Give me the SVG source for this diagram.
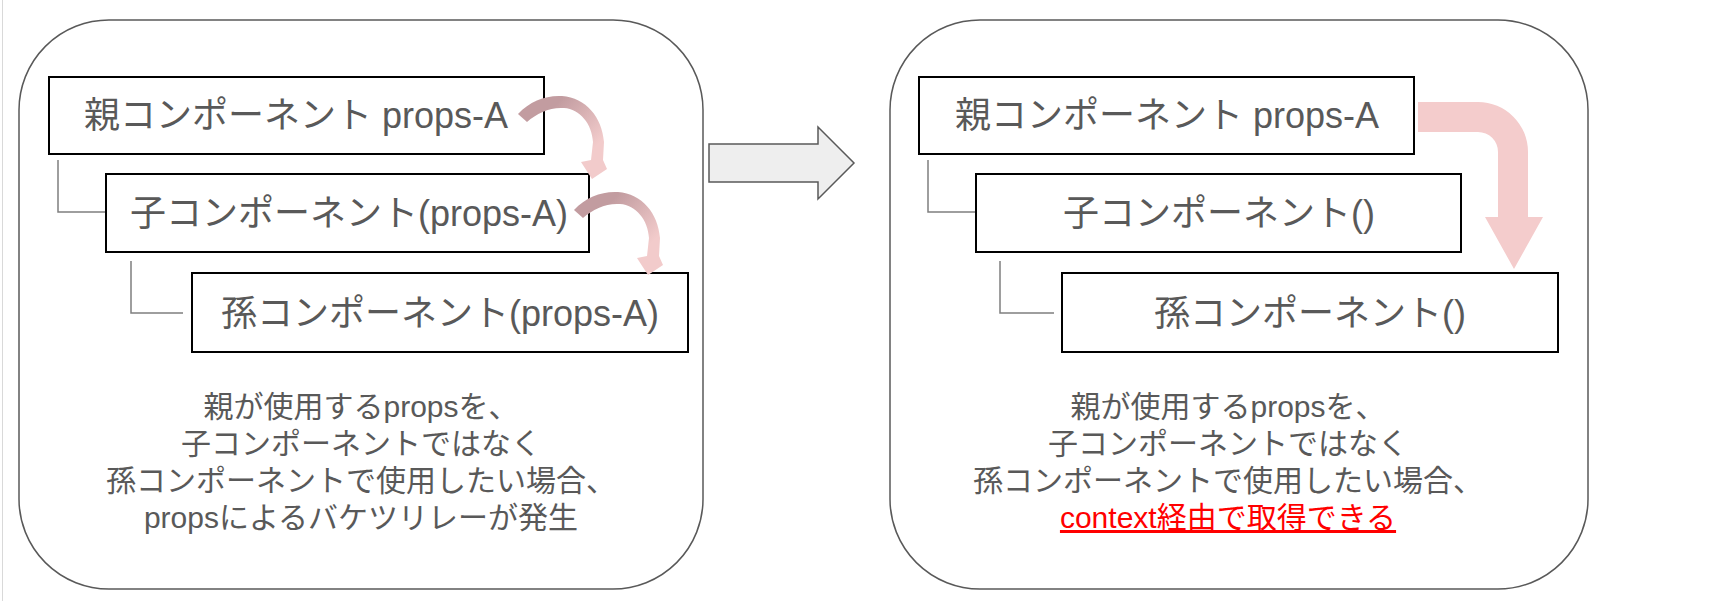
<svg xmlns="http://www.w3.org/2000/svg" width="1714" height="601" viewBox="0 0 1714 601">
<style>
.panel{fill:#ffffff;stroke:#595959;stroke-width:1.5}
.box{fill:#ffffff;stroke:#000000;stroke-width:2}
.conn{fill:none;stroke:#7f7f7f;stroke-width:1.5}
.t{font-family:"Liberation Sans","Noto Sans CJK JP",sans-serif;fill:#595959;text-anchor:middle}
.bt{font-size:36px}
.nt{font-size:30px}
.red{fill:#ff0000;text-decoration:underline}
</style>
<defs>
<linearGradient id="cg" gradientUnits="userSpaceOnUse" x1="560" y1="100" x2="602" y2="140">
<stop offset="0" stop-color="#c29ca0"/>
<stop offset="1" stop-color="#f2cbcb"/>
</linearGradient>
<path id="curl" d="M518,114 C530,101 546,95 562,96 C586,98 602,117 604,142 L603,160 L607,169 L592,179 L581,162 L591,160 L593,142 C592,124 580,109 564,108 C550,107 537,113 527,122 Z"/>
</defs>
<line x1="2.5" y1="0" x2="2.5" y2="601" stroke="#d9d9d9" stroke-width="1"/>
<g id="panel-left">
<rect class="panel" x="19" y="20" width="684" height="569" rx="90" ry="90"/>
</g>
<g id="panel-right">
<rect class="panel" x="890" y="20" width="698" height="569" rx="90" ry="90"/>
</g>
<g id="connectors">
<path class="conn" d="M58,160 V212 H106"/>
<path class="conn" d="M131,261 V313 H183"/>
<path class="conn" d="M928,160 V212 H978"/>
<path class="conn" d="M1000,261 V313 H1054"/>
</g>
<g id="left-parent">
<rect class="box" x="49" y="77" width="495" height="77"/>
<text class="t bt" x="296" y="128">親コンポーネント props-A</text>
</g>
<g id="left-child">
<rect class="box" x="106" y="174" width="483" height="78"/>
<text class="t bt" x="349" y="226">子コンポーネント(props-A)</text>
</g>
<g id="left-grandchild">
<rect class="box" x="192" y="273" width="496" height="79"/>
<text class="t bt" x="440" y="326">孫コンポーネント(props-A)</text>
</g>
<g id="left-curl-arrows">
<use href="#curl" fill="url(#cg)"/>
<use href="#curl" fill="url(#cg)" transform="translate(56,96)"/>
</g>
<g id="left-note">
<text class="t nt" x="361" y="417">親が使用するpropsを、</text>
<text class="t nt" x="361" y="454">子コンポーネントではなく</text>
<text class="t nt" x="361" y="491">孫コンポーネントで使用したい場合、</text>
<text class="t nt" x="361" y="528">propsによるバケツリレーが発生</text>
</g>
<g id="transition-arrow">
<path d="M709,144 H818 V127 L854,163 L818,199 V182 H709 Z" fill="#eeeeee" stroke="#595959" stroke-width="1.5"/>
</g>
<g id="right-parent">
<rect class="box" x="919" y="77" width="495" height="77"/>
<text class="t bt" x="1167" y="128">親コンポーネント props-A</text>
</g>
<g id="right-child">
<rect class="box" x="976" y="174" width="485" height="78"/>
<text class="t bt" x="1219" y="226">子コンポーネント()</text>
</g>
<g id="right-grandchild">
<rect class="box" x="1062" y="273" width="496" height="79"/>
<text class="t bt" x="1310" y="326">孫コンポーネント()</text>
</g>
<g id="right-context-arrow">
<path d="M1418,102 H1478 A50,50 0 0 1 1528,152 V217 H1543 L1514,269 L1485,217 H1498 V152 A20,20 0 0 0 1478,132 H1418 Z" fill="#f4cccc"/>
</g>
<g id="right-note">
<text class="t nt" x="1228" y="417">親が使用するpropsを、</text>
<text class="t nt" x="1228" y="454">子コンポーネントではなく</text>
<text class="t nt" x="1228" y="491">孫コンポーネントで使用したい場合、</text>
<text class="t nt red" x="1228" y="528">context経由で取得できる</text>
</g>
</svg>
